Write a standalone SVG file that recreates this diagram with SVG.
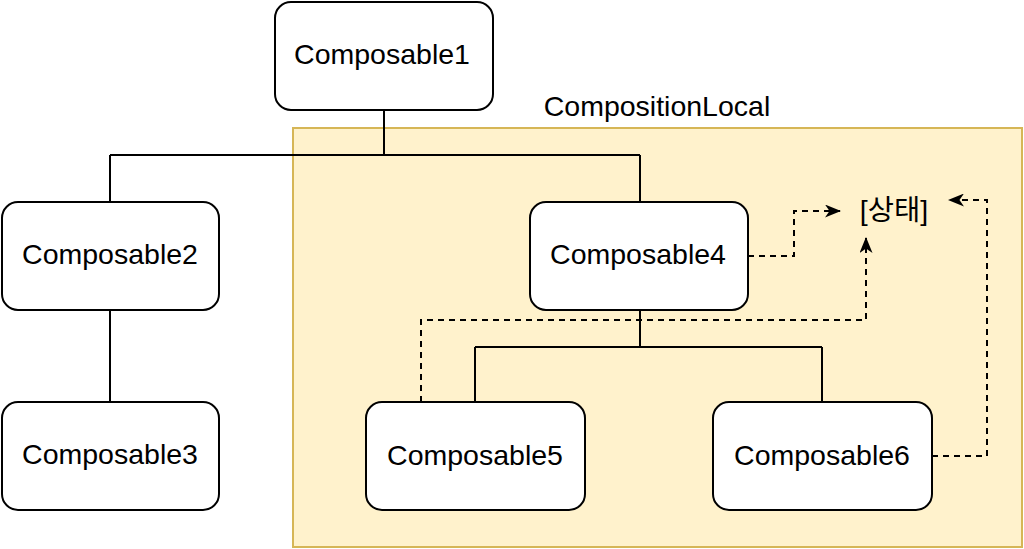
<svg xmlns="http://www.w3.org/2000/svg" width="1024" height="549" viewBox="0 0 1024 549">
<style>
.node rect{fill:#ffffff;stroke:#000000;stroke-width:2}
.node text, .lbl{font-family:"Liberation Sans",Arial,sans-serif;font-size:28.5px;fill:#000000;text-anchor:middle}
.solid{fill:none;stroke:#000000;stroke-width:2}
.dash{fill:none;stroke:#000000;stroke-width:2;stroke-dasharray:6 5}
</style>
<defs>
<marker id="arr" viewBox="0 0 16 13" refX="15" refY="6.5" markerWidth="16" markerHeight="13" markerUnits="userSpaceOnUse" orient="auto">
<path d="M0,0 L16,6.5 L0,13 L4.5,6.5 Z" fill="#000000"/>
</marker>
</defs>
<g id="group-compositionlocal">
<rect x="293" y="128" width="729" height="419" fill="#fff2cc" stroke="#d6b656" stroke-width="2"/>
<text class="lbl" x="657" y="116">CompositionLocal</text>
</g>
<g id="connectors">
<path class="solid" d="M384,110 V155"/>
<path class="solid" d="M110,155 H640 M110,155 V202 M640,155 V202"/>
<path class="solid" d="M110,310 V402"/>
<path class="solid" d="M640,310 V347 M475,347 H822 M475,347 V402 M822,347 V402"/>
<path class="dash" d="M748,256 H794 V211 H840" marker-end="url(#arr)"/>
<path class="dash" d="M421,402 V320 H866 V238" marker-end="url(#arr)"/>
<path class="dash" d="M932,456 H987 V200 H949" marker-end="url(#arr)"/>
</g>
<g id="node-composable1" class="node"><rect x="275" y="2" width="218" height="108" rx="16"/><text x="382" y="64">Composable1</text></g>
<g id="node-composable2" class="node"><rect x="2" y="202" width="217" height="108" rx="16"/><text x="110" y="264">Composable2</text></g>
<g id="node-composable3" class="node"><rect x="2" y="402" width="217" height="108" rx="16"/><text x="110" y="464">Composable3</text></g>
<g id="node-composable4" class="node"><rect x="530" y="202" width="218" height="108" rx="16"/><text x="638" y="264">Composable4</text></g>
<g id="node-composable5" class="node"><rect x="366" y="402" width="219" height="108" rx="16"/><text x="475" y="465">Composable5</text></g>
<g id="node-composable6" class="node"><rect x="713" y="402" width="219" height="108" rx="16"/><text x="822" y="465">Composable6</text></g>
<g id="node-state"><text class="lbl" x="894" y="220" style="font-family:'Liberation Sans','Noto Sans CJK KR',sans-serif">[상태]</text></g>
</svg>
